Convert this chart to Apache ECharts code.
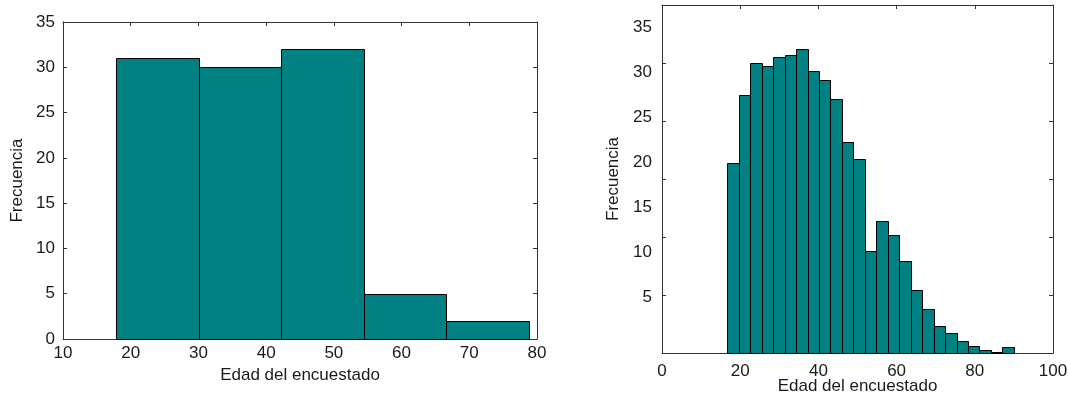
<!DOCTYPE html>
<html>
<head>
<meta charset="utf-8">
<script src="https://cdn.jsdelivr.net/npm/echarts@6/dist/echarts.min.js"></script>
<style>
html,body{margin:0;padding:0;background:#fff;}
#chart{width:1068px;height:397px;}
</style>
</head>
<body>
<div id="chart"></div>
<script>
// ---- data ----
const xTitle = 'Edad del encuestado';
const yTitle = 'Frecuencia';
// Left histogram (5 bins)
const leftBinEdges = [17.86, 30.05, 42.23, 54.42, 66.6, 78.79];
const leftCounts = [31, 30, 32, 5, 2];
// Right histogram (25 bins)
const rightBinEdges = [16.7, 19.63, 22.56, 25.5, 28.43, 31.36, 34.29, 37.22, 40.16, 43.09, 46.02,
  48.95, 51.88, 54.82, 57.75, 60.68, 63.61, 66.54, 69.48, 72.41, 75.34, 78.27, 81.2, 84.14, 87.07, 90.0];
const rightCounts = [16.4, 22.2, 25.0, 24.7, 25.5, 25.7, 26.2, 24.3, 23.5, 21.9, 18.2, 16.7,
  8.8, 11.4, 10.2, 7.9, 5.4, 3.8, 2.3, 1.7, 1.0, 0.6, 0.3, 0.1, 0.5];
// tick labels
const leftXTicks = [10, 20, 30, 40, 50, 60, 70, 80];
const leftYTicks = [0, 5, 10, 15, 20, 25, 30, 35];
const rightXTicks = [0, 20, 40, 60, 80, 100];
const rightYLabels = [5, 10, 15, 20, 25, 30, 35];

// ---- styles ----
const FONT = 'Liberation Sans, Arial, sans-serif';
const TXT = '#1a1a1a';
const LINE = '#333';
const BAR = '#008080';

function toBins(edges, counts) {
  return counts.map((c, i) => [edges[i], edges[i + 1], c]);
}

function renderBin(params, api) {
  const p0 = api.coord([api.value(0), api.value(2)]);
  const p1 = api.coord([api.value(1), 0]);
  const x0 = Math.round(p0[0]) + 0.5, x1 = Math.round(p1[0]) + 0.5;
  const y0 = Math.round(p0[1]) + 0.5, y1 = Math.round(p1[1]) + 0.5;
  return {
    type: 'rect',
    shape: { x: x0, y: y0, width: x1 - x0, height: y1 - y0 },
    style: { fill: BAR, stroke: '#000', lineWidth: 1 }
  };
}

function frameAxis(extra) {
  return Object.assign({
    type: 'value',
    axisLine: { show: true, onZero: false, lineStyle: { color: LINE, width: 1 } },
    axisTick: { show: true, inside: true, length: 4, lineStyle: { color: LINE } },
    axisLabel: { show: false },
    splitLine: { show: false },
    nameMoveOverlap: false
  }, extra);
}

const chart = echarts.init(document.getElementById('chart'), null, { renderer: 'canvas' });
chart.setOption({
  animation: false,
  backgroundColor: '#fff',
  textStyle: { fontFamily: FONT },
  grid: [
    { left: 63, top: 22, width: 474, height: 317, outerBoundsMode: 'none', containLabel: false },
    { left: 662, top: 5, width: 391, height: 348, outerBoundsMode: 'none', containLabel: false },
    { left: 662, top: 5, width: 391, height: 337.5, outerBoundsMode: 'none', containLabel: false }
  ],
  xAxis: [
    frameAxis({
      gridIndex: 0, position: 'bottom', min: leftXTicks[0], max: leftXTicks[leftXTicks.length - 1], interval: 10,
      axisLabel: { show: true, color: TXT, fontSize: 17, fontFamily: FONT, margin: 6 },
      name: xTitle, nameLocation: 'middle', nameGap: 28,
      nameTextStyle: { color: TXT, fontSize: 17, fontFamily: FONT }
    }),
    frameAxis({ gridIndex: 0, position: 'top', min: 10, max: 80, interval: 10 }),
    frameAxis({
      gridIndex: 1, position: 'bottom', min: rightXTicks[0], max: rightXTicks[rightXTicks.length - 1], interval: 20,
      axisLabel: { show: true, color: TXT, fontSize: 17, fontFamily: FONT, margin: 10 },
      name: xTitle, nameLocation: 'middle', nameGap: 25,
      nameTextStyle: { color: TXT, fontSize: 17, fontFamily: FONT }
    }),
    frameAxis({ gridIndex: 1, position: 'top', min: 0, max: 100, interval: 20 }),
    { type: 'value', gridIndex: 2, show: false, min: 0, max: 100 }
  ],
  yAxis: [
    frameAxis({
      gridIndex: 0, position: 'left', min: leftYTicks[0], max: leftYTicks[leftYTicks.length - 1], interval: 5,
      axisLabel: { show: true, color: TXT, fontSize: 17, fontFamily: FONT, margin: 8 },
      name: yTitle, nameLocation: 'middle', nameGap: 37, nameRotate: 90,
      nameTextStyle: { color: TXT, fontSize: 17, fontFamily: FONT }
    }),
    frameAxis({ gridIndex: 0, position: 'right', min: 0, max: 35, interval: 5 }),
    frameAxis({
      gridIndex: 1, position: 'left', min: 0, max: 30, interval: 5,
      name: yTitle, nameLocation: 'middle', nameGap: 40, nameRotate: 90,
      nameTextStyle: { color: TXT, fontSize: 17, fontFamily: FONT }
    }),
    frameAxis({ gridIndex: 1, position: 'right', min: 0, max: 30, interval: 5 }),
    {
      type: 'value', gridIndex: 2, position: 'left', min: 0, max: 37.5, interval: 5,
      axisLine: { show: false }, axisTick: { show: false }, splitLine: { show: false },
      axisLabel: {
        show: true, color: TXT, fontSize: 17, fontFamily: FONT, margin: 10,
        formatter: v => rightYLabels.indexOf(v) >= 0 ? String(v) : ''
      }
    }
  ],
  series: [
    {
      type: 'custom', xAxisIndex: 0, yAxisIndex: 0,
      renderItem: renderBin, encode: { x: [0, 1], y: 2 },
      data: toBins(leftBinEdges, leftCounts), z: 1
    },
    {
      type: 'custom', xAxisIndex: 2, yAxisIndex: 2,
      renderItem: renderBin, encode: { x: [0, 1], y: 2 },
      data: toBins(rightBinEdges, rightCounts), z: 1
    }
  ]
});
</script>
</body>
</html>
